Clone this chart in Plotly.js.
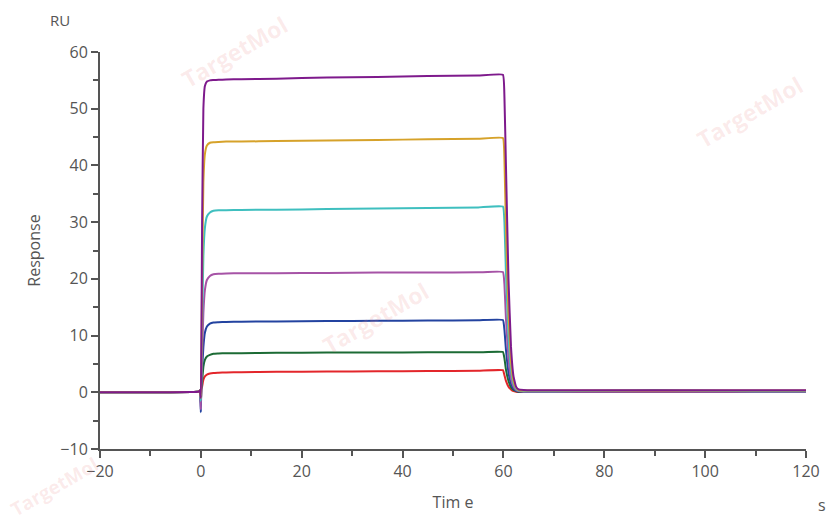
<!DOCTYPE html>
<html>
<head>
<meta charset="utf-8">
<script src="https://cdn.plot.ly/plotly-3.0.1.min.js"></script>
<style>html,body{margin:0;padding:0;background:#fff;}#chart{width:832px;height:521px;}</style>
</head>
<body>
<div id="chart"></div>
<script>
var time = [-20,-10,-2,-0.5,-0.2,0,0.1,0.25,0.5,0.8,1.2,1.8,2.5,3.5,5,8,15,25,35,45,55,59.9,60.2,60.5,61,61.5,62,62.5,63,64,66,70,80,90,100,110,120];

var seriesNames = ["c1","c2","c3","c4","c5","c6","c7"];
var colors = ["#e3262b","#1c6b35","#2343a0","#a653a6","#3fbfbf","#d6a22a","#7e1a8c"];

var red    = [0,0,0.05,0.1,0.3,-1.5,0.5,1.0,2.2,2.8,3.1,3.3,3.4,3.45,3.5,3.55,3.6,3.65,3.7,3.75,3.8,3.9,3.0,2.0,1.0,0.5,0.2,0.1,0.05,0.05,0.05,0.05,0.05,0.05,0.05,0.05,0.05];
var green  = [0,0,0.05,0.1,0.3,-2.0,0.8,2.0,4.5,5.7,6.3,6.6,6.8,6.85,6.9,6.9,6.95,7.0,7.0,7.05,7.05,7.1,6.0,4.0,2.0,0.9,0.4,0.2,0.1,0.1,0.1,0.1,0.1,0.1,0.1,0.1,0.1];
var blue   = [0,0,0.05,0.1,0.3,-3.5,1.5,4.0,8.0,10.5,11.6,12.1,12.3,12.35,12.4,12.45,12.5,12.55,12.6,12.65,12.7,12.75,11.0,7.5,3.5,1.5,0.6,0.3,0.15,0.15,0.15,0.15,0.15,0.2,0.15,0.15,0.15];
var pink   = [0,0,0.05,0.1,0.3,-3.0,2.5,7.0,14.0,18.0,19.8,20.5,20.8,20.9,20.95,21.0,21.0,21.05,21.1,21.1,21.15,21.2,19.0,13.0,6.0,2.5,1.0,0.4,0.2,0.1,0.1,0.1,0.1,0.1,0.1,0.1,0.1];
var cyan   = [0,0,0.05,0.1,0.3,-1.5,4.0,12.0,24.0,29.0,31.0,31.7,32.0,32.1,32.1,32.15,32.2,32.3,32.4,32.5,32.6,32.75,30.0,21.0,10.0,4.0,1.5,0.6,0.3,0.2,0.2,0.2,0.25,0.4,0.25,0.2,0.2];
var orange = [0,0,0.05,0.1,0.3,-1.0,5.0,20.0,37.0,42.0,43.5,44.0,44.1,44.15,44.2,44.2,44.3,44.4,44.5,44.6,44.7,44.85,41.0,29.0,14.0,5.5,2.0,0.8,0.4,0.3,0.3,0.3,0.3,0.3,0.3,0.3,0.3];
var purple = [0,0,0.05,0.1,0.3,-1.0,8.0,30.0,50.0,54.0,54.8,55.0,55.05,55.1,55.15,55.2,55.3,55.5,55.6,55.75,55.85,56.0,52.0,40.0,20.0,8.0,2.8,1.0,0.5,0.4,0.35,0.35,0.35,0.35,0.35,0.35,0.35];

var values = [red, green, blue, pink, cyan, orange, purple];

var xTickVals = [-20,0,20,40,60,80,100,120];
var xTickText = ["\u221220","0","20","40","60","80","100","120"];
var yTickVals = [-10,0,10,20,30,40,50,60];
var yTickText = ["\u221210","0","10","20","30","40","50","60"];

var traces = values.map(function(v, i){
  return {x: time, y: v, type: "scatter", mode: "lines", name: seriesNames[i],
          line: {color: colors[i], width: 2, shape: "spline", smoothing: 0.3}, hoverinfo: "none"};
});

var fontFam = "Open Sans, sans-serif";
var axisCol = "#555555";

var wm = [
  {x: 0.19, y: 1.0, s: 23},
  {x: 0.92, y: 0.85, s: 23},
  {x: 0.39, y: 0.33, s: 23},
  {x: -0.065, y: -0.095, s: 19}
];
var annotations = wm.map(function(w){
  return {xref: "paper", yref: "paper", x: w.x, y: w.y, xanchor: "center", yanchor: "middle",
          text: "<b>TargetMol</b>", showarrow: false, textangle: -30,
          font: {family: fontFam, size: w.s, color: "rgba(235,130,130,0.16)"}};
});
annotations.push({xref: "paper", yref: "paper", x: -0.057, y: 1.08, xanchor: "center", yanchor: "middle",
  text: "RU", showarrow: false, font: {family: fontFam, size: 15, color: axisCol}});
annotations.push({xref: "paper", yref: "paper", x: 1.023, y: -0.14, xanchor: "center", yanchor: "middle",
  text: "s", showarrow: false, font: {family: fontFam, size: 16, color: axisCol}});

var layout = {
  width: 832, height: 521,
  margin: {l: 100, r: 26, t: 52, b: 72},
  paper_bgcolor: "#ffffff", plot_bgcolor: "#ffffff",
  showlegend: false,
  font: {family: fontFam, size: 16, color: axisCol},
  xaxis: {
    range: [-20, 120], showgrid: false, zeroline: false,
    showline: true, linecolor: axisCol, linewidth: 2,
    ticks: "outside", ticklen: 7, tickwidth: 2, tickcolor: axisCol,
    tickmode: "array", tickvals: xTickVals, ticktext: xTickText,
    minor: {dtick: 10, ticks: "outside", ticklen: 5, tickwidth: 2, tickcolor: axisCol, showgrid: false},
    tickfont: {family: fontFam, size: 16, color: axisCol},
    title: {text: "Tim e", font: {family: fontFam, size: 16, color: axisCol}, standoff: 16}
  },
  yaxis: {
    range: [-10, 60], showgrid: false, zeroline: false,
    showline: true, linecolor: axisCol, linewidth: 2,
    ticks: "outside", ticklen: 7, tickwidth: 2, tickcolor: axisCol,
    tickmode: "array", tickvals: yTickVals, ticktext: yTickText,
    minor: {dtick: 5, ticks: "outside", ticklen: 5, tickwidth: 2, tickcolor: axisCol, showgrid: false},
    tickfont: {family: fontFam, size: 16, color: axisCol},
    title: {text: "Response", font: {family: fontFam, size: 16, color: axisCol}, standoff: 16}
  },
  annotations: annotations
};

Plotly.newPlot("chart", traces, layout, {displayModeBar: false, staticPlot: true});
</script>
</body>
</html>
